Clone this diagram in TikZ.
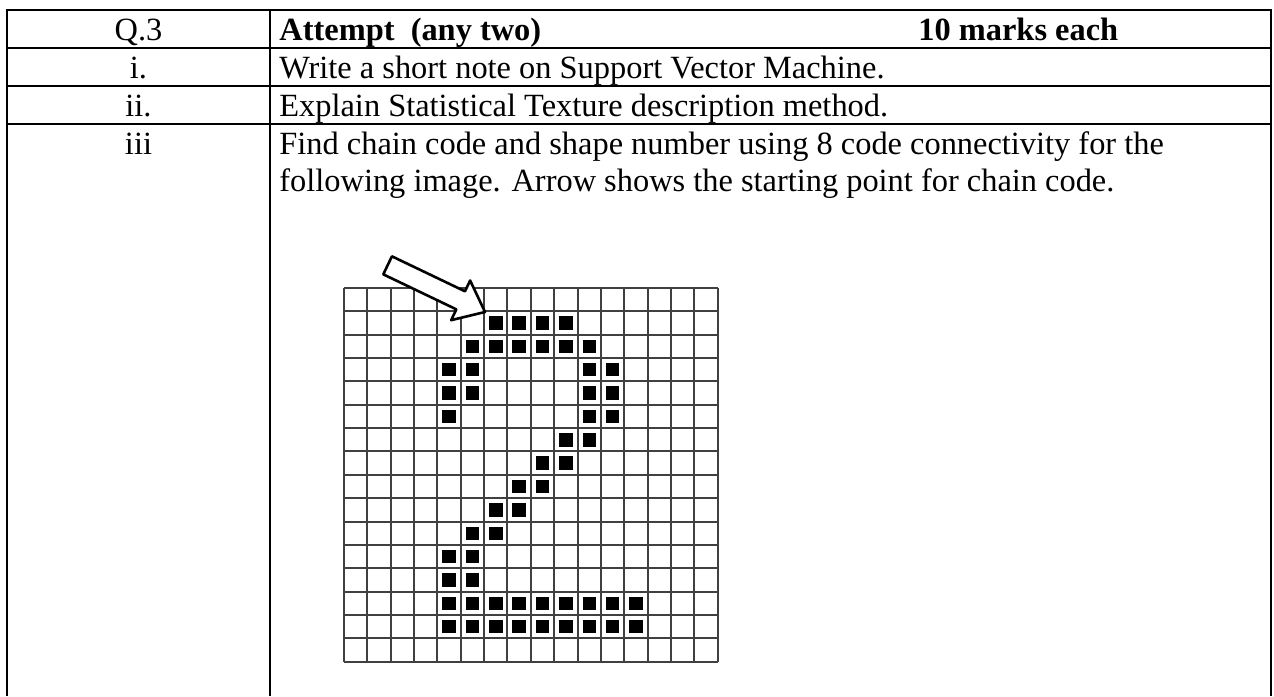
\documentclass[tikz,border=0pt]{standalone}
\usepackage{fontspec}
\setmainfont{Liberation Serif}

\begin{document}
\begin{tikzpicture}[x=0.5pt,y=-0.5pt,
	rule/.style={line width=1.3pt},
	txt/.style={font=\fontsize{16.2}{18.4}\selectfont, inner sep=0pt, anchor=base west},
	num/.style={font=\fontsize{16.2}{18.4}\selectfont, inner sep=0pt, anchor=base},
	gridline/.style={line width=1pt, draw=black!75},
	pix/.style={fill=black},
	arrowbox/.style={draw=black, line width=1.3pt, fill=white, line join=round}]

	\useasboundingbox (0,0) rectangle (1274,696);

	% table frame
	\draw[rule] (7,696) -- (7,10) -- (1271,10) -- (1271,696);
	\draw[rule] (270,10) -- (270,696);
	\foreach \y in {48,86,124}
		\draw[rule] (7,\y) -- (1271,\y);

	% table text
	\node[num] (q3) at (138.5,40) {Q.3};
	\node[txt] (head) at (279,40) {\bfseries Attempt\ \ (any two)};
	\node[txt] (marks) at (918,40) {\bfseries 10 marks each};
	\node[num] (ri) at (138.5,78) {i.};
	\node[txt] (qi) at (279,78) {Write a short note on Support Vector Machine.};
	\node[num] (rii) at (138.5,116) {ii.};
	\node[txt] (qii) at (279,116) {Explain Statistical Texture description method.};
	\node[num] (riii) at (138.5,154) {iii};
	\node[txt] (qiii) at (279,154) {Find chain code and shape number using 8 code connectivity for the};
	\node[txt] (qiv) at (279,191) {following image. Arrow shows the starting point for chain code.};

	% pixel grid
	\foreach \i in {0,...,16} {
		\draw[gridline] (344+\i*23.35,288) -- (344+\i*23.35,661.6);
		\draw[gridline] (344,288+\i*23.35) -- (717.6,288+\i*23.35);
	}
	\foreach \c/\r in {6/1,7/1,8/1,9/1,
			5/2,6/2,7/2,8/2,9/2,10/2,
			4/3,5/3,10/3,11/3,
			4/4,5/4,10/4,11/4,
			4/5,10/5,11/5,
			9/6,10/6, 8/7,9/7, 7/8,8/8, 6/9,7/9, 5/10,6/10,
			4/11,5/11, 4/12,5/12,
			4/13,5/13,6/13,7/13,8/13,9/13,10/13,11/13,12/13,
			4/14,5/14,6/14,7/14,8/14,9/14,10/14,11/14,12/14}
		\fill[pix] (349+\c*23.35,293+\r*23.35) rectangle +(13.4,13.4);

	% start arrow
	\draw[arrowbox, shift={(485,312)}, rotate=-25.6]
		(0,0) -- (-27,22) -- (-27,10) -- (-108,10) -- (-108,-10) -- (-27,-10) -- (-27,-22) -- cycle;
\end{tikzpicture}
\end{document}
